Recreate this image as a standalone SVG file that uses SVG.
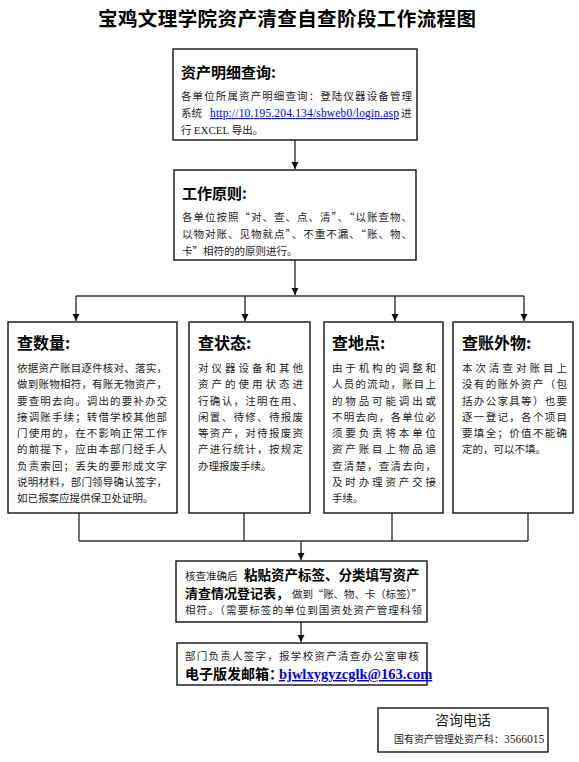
<svg xmlns="http://www.w3.org/2000/svg" width="579" height="762" viewBox="0 0 579 762">
<style>
.box{fill:#fff;stroke:#111;stroke-width:1.4}
.cn{font-family:"Noto Sans CJK SC","Noto Sans",sans-serif;fill:#222}
.b{font-weight:bold;fill:#000}
.hd{font-size:15px}
.bd{font-size:10.5px}
.ser{font-family:"Liberation Serif","Noto Sans CJK SC",serif}
.lnk{fill:#0000ee;text-decoration:underline}
.con{stroke:#333;stroke-width:1.4;fill:none}
</style>
<defs>
<marker id="ah" markerUnits="userSpaceOnUse" markerWidth="8" markerHeight="8" refX="7" refY="4" orient="auto">
<path d="M0,0.5 L7,4 L0,7.5 Z" fill="#111"/>
</marker>
</defs>
<rect width="579" height="762" fill="#fff"/>
<text x="287" y="26" text-anchor="middle" class="cn b" font-size="19.5" textLength="378" lengthAdjust="spacing">宝鸡文理学院资产清查自查阶段工作流程图</text>

<g id="connectors">
<line class="con" x1="295" y1="140" x2="295" y2="169" marker-end="url(#ah)"/>
<line class="con" x1="295" y1="260" x2="295" y2="295" marker-end="url(#ah)"/>
<line class="con" x1="76" y1="296" x2="524" y2="296"/>
<line class="con" x1="76" y1="296" x2="76" y2="321" marker-end="url(#ah)"/>
<line class="con" x1="245" y1="296" x2="245" y2="321" marker-end="url(#ah)"/>
<line class="con" x1="395" y1="296" x2="395" y2="321" marker-end="url(#ah)"/>
<line class="con" x1="524" y1="296" x2="524" y2="321" marker-end="url(#ah)"/>
<line class="con" x1="79" y1="513" x2="79" y2="541"/>
<line class="con" x1="244" y1="513" x2="244" y2="541"/>
<line class="con" x1="392" y1="513" x2="392" y2="541"/>
<line class="con" x1="528" y1="513" x2="528" y2="541"/>
<line class="con" x1="79" y1="541" x2="528" y2="541"/>
<line class="con" x1="301" y1="541" x2="301" y2="560" marker-end="url(#ah)"/>
<line class="con" x1="301" y1="622" x2="301" y2="642" marker-end="url(#ah)"/>
</g>

<g id="n1">
<rect class="box" x="173" y="49" width="244" height="91"/>
<text x="181" y="78" class="cn b hd">资产明细查询:</text>
<text x="181" y="100" class="cn bd" textLength="231" lengthAdjust="spacing">各单位所属资产明细查询：登陆仪器设备管理</text>
<text x="181" y="117" class="cn bd">系统</text>
<text x="210" y="117" class="ser lnk" font-size="11.5" textLength="189" lengthAdjust="spacing">http://10.195.204.134/sbweb0/login.asp </text>
<text x="401" y="117" class="cn bd">进</text>
<text x="181" y="134" class="cn bd">行 <tspan class="ser" font-size="11">EXCEL</tspan> 导出。</text>
</g>

<g id="n2">
<rect class="box" x="174" y="170" width="242" height="90"/>
<text x="182" y="199" class="cn b hd">工作原则:</text>
<text x="182" y="221" class="cn bd" textLength="230" lengthAdjust="spacing">各单位按照“对、查、点、清”、“以账查物、</text>
<text x="182" y="238" class="cn bd" textLength="230" lengthAdjust="spacing">以物对账、见物就点”、不重不漏、“账、物、</text>
<text x="182" y="255" class="cn bd">卡”相符的的原则进行。</text>
</g>

<g id="n3">
<rect class="box" x="8" y="322" width="169" height="191"/>
<text x="17" y="349" class="cn b" font-size="16">查数量:</text>
<text x="17" y="372" class="cn bd" textLength="150" lengthAdjust="spacing">依据资产账目逐件核对、落实，</text>
<text x="17" y="388" class="cn bd" textLength="150" lengthAdjust="spacing">做到账物相符，有账无物资产，</text>
<text x="17" y="404.5" class="cn bd" textLength="150" lengthAdjust="spacing">要查明去向。调出的要补办交</text>
<text x="17" y="420.5" class="cn bd" textLength="150" lengthAdjust="spacing">接调账手续；转借学校其他部</text>
<text x="17" y="437" class="cn bd" textLength="150" lengthAdjust="spacing">门使用的，在不影响正常工作</text>
<text x="17" y="453" class="cn bd" textLength="150" lengthAdjust="spacing">的前提下，应由本部门经手人</text>
<text x="17" y="469.5" class="cn bd" textLength="150" lengthAdjust="spacing">负责索回；丢失的要形成文字</text>
<text x="17" y="485.5" class="cn bd" textLength="150" lengthAdjust="spacing">说明材料，部门领导确认签字，</text>
<text x="17" y="502" class="cn bd">如已报案应提供保卫处证明。</text>
</g>

<g id="n4">
<rect class="box" x="189" y="322" width="121" height="191"/>
<text x="198" y="349" class="cn b" font-size="16">查状态:</text>
<text x="198" y="372" class="cn bd" textLength="105" lengthAdjust="spacing">对仪器设备和其他</text>
<text x="198" y="388" class="cn bd" textLength="105" lengthAdjust="spacing">资产的使用状态进</text>
<text x="198" y="404.5" class="cn bd" textLength="105" lengthAdjust="spacing">行确认，注明在用、</text>
<text x="198" y="420.5" class="cn bd" textLength="105" lengthAdjust="spacing">闲置、待修、待报废</text>
<text x="198" y="437" class="cn bd" textLength="105" lengthAdjust="spacing">等资产，对待报废资</text>
<text x="198" y="453" class="cn bd" textLength="105" lengthAdjust="spacing">产进行统计，按规定</text>
<text x="198" y="469.5" class="cn bd">办理报废手续。</text>
</g>

<g id="n5">
<rect class="box" x="324" y="322" width="119" height="191"/>
<text x="332" y="349" class="cn b" font-size="16">查地点:</text>
<text x="332" y="372" class="cn bd" textLength="104" lengthAdjust="spacing">由于机构的调整和</text>
<text x="332" y="388" class="cn bd" textLength="104" lengthAdjust="spacing">人员的流动，账目上</text>
<text x="332" y="404.5" class="cn bd" textLength="104" lengthAdjust="spacing">的物品可能调出或</text>
<text x="332" y="420.5" class="cn bd" textLength="104" lengthAdjust="spacing">不明去向，各单位必</text>
<text x="332" y="437" class="cn bd" textLength="104" lengthAdjust="spacing">须要负责将本单位</text>
<text x="332" y="453" class="cn bd" textLength="104" lengthAdjust="spacing">资产账目上物品追</text>
<text x="332" y="469.5" class="cn bd" textLength="104" lengthAdjust="spacing">查清楚，查清去向，</text>
<text x="332" y="485.5" class="cn bd" textLength="104" lengthAdjust="spacing">及时办理资产交接</text>
<text x="332" y="502" class="cn bd">手续。</text>
</g>

<g id="n6">
<rect class="box" x="453" y="322" width="120" height="191"/>
<text x="462" y="349" class="cn b" font-size="16">查账外物:</text>
<text x="462" y="372" class="cn bd" textLength="105" lengthAdjust="spacing">本次清查对账目上</text>
<text x="462" y="388" class="cn bd" textLength="105" lengthAdjust="spacing">没有的账外资产（包</text>
<text x="462" y="404.5" class="cn bd" textLength="105" lengthAdjust="spacing">括办公家具等）也要</text>
<text x="462" y="420.5" class="cn bd" textLength="105" lengthAdjust="spacing">逐一登记，各个项目</text>
<text x="462" y="437" class="cn bd" textLength="105" lengthAdjust="spacing">要填全；价值不能确</text>
<text x="462" y="453" class="cn bd">定的，可以不填。</text>
</g>

<g id="n7">
<rect class="box" x="176" y="561" width="251" height="61"/>
<text x="185" y="579.5" class="cn bd">核查准确后<tspan x="244" class="b" font-size="13.5">粘贴资产标签、分类填写资产</tspan></text>
<text x="185" y="598" class="cn b" font-size="13" textLength="104" lengthAdjust="spacing">清查情况登记表，</text>
<text x="292" y="598" class="cn bd" textLength="130" lengthAdjust="spacing">做到“账、物、卡（标签）”</text>
<text x="185" y="614" class="cn bd" textLength="237" lengthAdjust="spacing">相符。（需要标签的单位到国资处资产管理科领</text>
</g>

<g id="n8">
<rect class="box" x="177" y="643" width="250" height="42"/>
<text x="185" y="660" class="cn bd" textLength="234" lengthAdjust="spacing">部门负责人签字，报学校资产清查办公室审核</text>
<text x="185" y="679" class="cn b" font-size="14">电子版发邮箱：</text>
<text x="279" y="679" class="ser b lnk" font-size="14.5">bjwlxygyzcglk@163.com</text>
</g>

<g id="n9">
<rect class="box" x="378" y="708" width="170" height="44"/>
<text x="463" y="725" text-anchor="middle" class="cn" font-size="14" fill="#000">咨询电话</text>
<text x="394" y="743" class="cn" font-size="10">国有资产管理处资产科：<tspan class="ser" font-size="11.5">3566015</tspan></text>
</g>
</svg>
